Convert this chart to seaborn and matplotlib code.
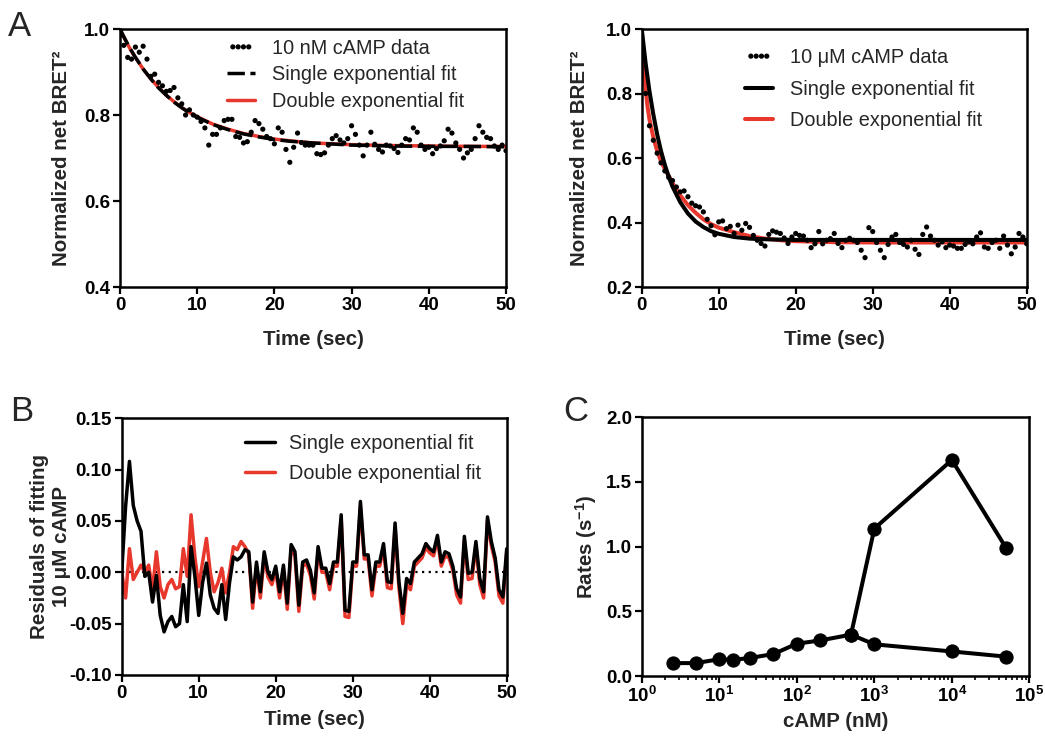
import numpy as np
import pandas as pd
import matplotlib
matplotlib.use("Agg")
import matplotlib.pyplot as plt
import seaborn as sns
from matplotlib.ticker import LogLocator, LogFormatterMathtext, NullFormatter, MultipleLocator, FormatStrFormatter

# ---------------- data ----------------
t_data = [i * 0.5 for i in range(101)]

nM10_data = [0.985, 0.962, 0.934, 0.930, 0.958, 0.946, 0.960, 0.930, 0.890, 0.895,
             0.876, 0.868, 0.855, 0.857, 0.864, 0.840, 0.826, 0.800, 0.812, 0.800,
             0.795, 0.785, 0.770, 0.730, 0.755, 0.755, 0.770, 0.787, 0.790, 0.790,
             0.750, 0.748, 0.735, 0.738, 0.760, 0.787, 0.780, 0.767, 0.750, 0.745,
             0.733, 0.770, 0.760, 0.720, 0.690, 0.725, 0.758, 0.736, 0.730, 0.730,
             0.730, 0.710, 0.708, 0.712, 0.730, 0.745, 0.752, 0.742, 0.735, 0.745,
             0.775, 0.755, 0.730, 0.705, 0.730, 0.760, 0.732, 0.720, 0.714, 0.730,
             0.728, 0.722, 0.713, 0.730, 0.745, 0.742, 0.770, 0.760, 0.730, 0.720,
             0.725, 0.710, 0.722, 0.728, 0.740, 0.767, 0.758, 0.735, 0.720, 0.700,
             0.712, 0.720, 0.745, 0.775, 0.760, 0.748, 0.745, 0.728, 0.720, 0.730,
             0.717]

uM10_data = [1.000, 0.800, 0.700, 0.655, 0.615, 0.585, 0.560, 0.540, 0.530, 0.510,
             0.495, 0.498, 0.480, 0.460, 0.452, 0.448, 0.433, 0.410, 0.390, 0.362,
             0.402, 0.405, 0.381, 0.388, 0.366, 0.392, 0.376, 0.397, 0.385, 0.360,
             0.345, 0.335, 0.327, 0.363, 0.374, 0.370, 0.366, 0.352, 0.335, 0.355,
             0.366, 0.360, 0.358, 0.345, 0.322, 0.334, 0.372, 0.334, 0.345, 0.350,
             0.366, 0.335, 0.322, 0.345, 0.351, 0.345, 0.338, 0.314, 0.291, 0.384,
             0.372, 0.338, 0.314, 0.291, 0.332, 0.355, 0.363, 0.338, 0.332, 0.324,
             0.345, 0.317, 0.301, 0.363, 0.386, 0.358, 0.345, 0.330, 0.340, 0.322,
             0.330, 0.327, 0.320, 0.320, 0.332, 0.340, 0.334, 0.355, 0.368, 0.324,
             0.320, 0.338, 0.345, 0.320, 0.358, 0.330, 0.303, 0.324, 0.366, 0.355,
             0.334]

# fit curves
t_fit_nM = [0, 0.5, 1, 1.5, 2, 3, 4, 5, 6, 7, 8, 9, 10, 12, 14, 16, 18, 20, 22, 25, 30, 35, 40, 45, 50]
nM10_single = [1.000, 0.982, 0.965, 0.949, 0.934, 0.907, 0.884, 0.863, 0.846, 0.830, 0.817, 0.805,
               0.795, 0.778, 0.766, 0.756, 0.749, 0.743, 0.739, 0.735, 0.730, 0.728, 0.727, 0.727, 0.726]
nM10_double = [1.000, 0.981, 0.964, 0.948, 0.934, 0.907, 0.884, 0.864, 0.846, 0.831, 0.817, 0.806,
               0.796, 0.779, 0.767, 0.757, 0.750, 0.744, 0.740, 0.735, 0.731, 0.729, 0.728, 0.727, 0.727]

t_fit_uM_single = [0, 0.5, 1, 1.5, 2, 2.5, 3, 3.5, 4, 5, 6, 7, 8, 9, 10, 12, 14, 16, 18, 20, 25, 30, 40, 50]
uM10_single = [1.000, 0.895, 0.808, 0.736, 0.674, 0.622, 0.579, 0.542, 0.511, 0.463, 0.428, 0.403,
               0.386, 0.373, 0.365, 0.355, 0.350, 0.348, 0.347, 0.346, 0.346, 0.346, 0.346, 0.346]
t_fit_uM_double = [0, 0.25, 0.5, 0.75, 1, 1.5, 2, 2.5, 3, 3.5, 4, 5, 6, 7, 8, 9, 10, 12, 14, 16, 18, 20, 25, 30, 40, 50]
uM10_double = [1.000, 0.900, 0.815, 0.760, 0.720, 0.665, 0.622, 0.590, 0.566, 0.545, 0.522, 0.484,
               0.454, 0.430, 0.410, 0.395, 0.384, 0.370, 0.358, 0.350, 0.345, 0.342, 0.339, 0.338,
               0.338, 0.338]

resid_single = [0.000, 0.064, 0.108, 0.065, 0.050, 0.040, -0.004, 0.000, -0.029, -0.003,
                -0.042, -0.058, -0.048, -0.043, -0.053, -0.050, -0.012, -0.048, 0.025, -0.004,
                -0.042, -0.010, 0.009, -0.022, -0.035, -0.040, -0.012, -0.046, -0.010, 0.015,
                0.012, 0.015, 0.022, 0.020, -0.029, 0.010, -0.019, 0.020, 0.000, -0.007,
                0.006, -0.019, 0.007, -0.030, 0.027, 0.020, -0.032, 0.010, 0.012, 0.002,
                -0.020, 0.025, 0.004, 0.004, -0.011, 0.010, 0.010, 0.056, -0.037, -0.038,
                0.010, 0.010, 0.069, 0.017, 0.017, -0.017, 0.010, 0.010, 0.028, -0.009,
                -0.010, 0.048, -0.009, -0.040, -0.006, -0.011, 0.010, 0.014, 0.018, 0.028,
                0.023, 0.020, 0.036, 0.010, 0.020, 0.018, 0.006, -0.016, -0.024, 0.035,
                -0.001, 0.000, 0.030, -0.006, -0.019, 0.054, 0.030, 0.014, -0.017, -0.024,
                0.023]
resid_double = [0.000, -0.025, 0.023, -0.007, 0.000, 0.007, 0.000, 0.007, -0.017, 0.020,
                -0.014, -0.025, -0.012, -0.007, -0.016, -0.014, 0.023, -0.004, 0.056, 0.015,
                -0.014, 0.010, 0.033, 0.000, -0.019, -0.010, 0.004, -0.020, 0.000, 0.025,
                0.022, 0.030, 0.025, 0.018, -0.035, 0.006, -0.025, 0.016, -0.005, -0.012,
                0.002, -0.025, 0.003, -0.036, 0.023, 0.016, -0.038, 0.006, 0.008, -0.003,
                -0.026, 0.021, 0.000, 0.000, -0.017, 0.006, 0.006, 0.052, -0.043, -0.044,
                0.006, 0.006, 0.064, 0.013, 0.013, -0.023, 0.006, 0.006, 0.024, -0.015,
                -0.016, 0.044, -0.015, -0.050, -0.012, -0.017, 0.006, 0.010, 0.014, 0.024,
                0.019, 0.016, 0.032, 0.006, 0.016, 0.014, 0.002, -0.022, -0.030, 0.031,
                -0.007, -0.006, 0.026, -0.012, -0.025, 0.050, 0.026, 0.010, -0.023, -0.030,
                0.019]

camp_slow = [2.5, 5, 10, 15, 25, 50, 100, 200, 500, 1000, 10000, 50000]
rate_slow = [0.10, 0.10, 0.13, 0.125, 0.14, 0.17, 0.25, 0.275, 0.32, 0.245, 0.19, 0.15]
camp_fast = [500, 1000, 10000, 50000]
rate_fast = [0.32, 1.14, 1.67, 0.99]

# ---------------- style ----------------
sns.set_style("ticks")
plt.rcParams.update({
    "font.family": ["Liberation Sans", "DejaVu Sans"],
    "axes.unicode_minus": False,
    "mathtext.fontset": "custom",
    "mathtext.rm": "Liberation Sans",
    "mathtext.bf": "Liberation Sans:bold",
    "mathtext.default": "bf",
    "axes.linewidth": 1.8,
    "axes.edgecolor": "black",
    "xtick.color": "black",
    "ytick.color": "black",
    "xtick.major.width": 1.6,
    "ytick.major.width": 1.6,
    "xtick.major.size": 5,
    "ytick.major.size": 5,
    "xtick.minor.width": 1.2,
    "xtick.minor.size": 3,
    "xtick.direction": "out",
    "ytick.direction": "out",
})

RED = "#e8372c"
LW = 2.5
TICK_FS = 13.5
LAB_FS = 14.8
LEG_FS = 14.3

fig = plt.figure(figsize=(10.45, 7.42), dpi=100)
axA1 = fig.add_axes([0.1148, 0.6132, 0.3694, 0.3477])
axA2 = fig.add_axes([0.6141, 0.6132, 0.3684, 0.3477])
axB = fig.add_axes([0.1165, 0.0903, 0.3684, 0.3460])
axC = fig.add_axes([0.6141, 0.0889, 0.3710, 0.3487])


def style_axis(ax, xl_y, yl_x):
    for s in ax.spines.values():
        s.set_visible(True)
        s.set_linewidth(1.8)
    ax.tick_params(labelsize=TICK_FS, pad=2)
    for lab in ax.get_xticklabels() + ax.get_yticklabels():
        lab.set_fontweight("bold")
    ax.xaxis.set_label_coords(0.5, xl_y)
    ax.yaxis.set_label_coords(yl_x, 0.5)


# ---------- A left ----------
df_nm = pd.DataFrame({"t": t_data, "v": nM10_data})
sns.lineplot(x=t_fit_nM, y=nM10_double, ax=axA1, color=RED, lw=LW, label="Double exponential fit", zorder=2)
sns.lineplot(x=t_fit_nM, y=nM10_single, ax=axA1, color="black", lw=LW, label="Single exponential fit",
             dashes=(5, 1.6), zorder=3)
sns.scatterplot(data=df_nm, x="t", y="v", ax=axA1, color="black", s=14, edgecolor="none",
                label="10 nM cAMP data", zorder=4)
axA1.set_xlim(0, 50)
axA1.set_ylim(0.4, 1.0)
axA1.xaxis.set_major_locator(MultipleLocator(10))
axA1.yaxis.set_major_locator(MultipleLocator(0.2))
axA1.yaxis.set_major_formatter(FormatStrFormatter("%.1f"))
axA1.set_xlabel("Time (sec)", fontsize=LAB_FS, fontweight="bold")
axA1.set_ylabel("Normalized net BRET²", fontsize=LAB_FS, fontweight="bold")
h, l = axA1.get_legend_handles_labels()
order = [l.index("10 nM cAMP data"), l.index("Single exponential fit"), l.index("Double exponential fit")]
axA1.legend([h[i] for i in order], [l[i] for i in order], loc="upper left",
            bbox_to_anchor=(0.277, 0.962), frameon=False, fontsize=LEG_FS, borderpad=0,
            borderaxespad=0, handlelength=1.4, handletextpad=0.85, labelspacing=0.38,
            scatterpoints=4, scatteryoffsets=[0.5])
style_axis(axA1, -0.168, -0.128)

# ---------- A right ----------
df_um = pd.DataFrame({"t": t_data, "v": uM10_data})
sns.lineplot(x=t_fit_uM_double, y=uM10_double, ax=axA2, color=RED, lw=LW + 0.4,
             label="Double exponential fit", zorder=2)
sns.lineplot(x=t_fit_uM_single, y=uM10_single, ax=axA2, color="black", lw=LW + 0.4,
             label="Single exponential fit", zorder=3)
sns.scatterplot(data=df_um, x="t", y="v", ax=axA2, color="black", s=14, edgecolor="none",
                label="10 μM cAMP data", zorder=4)
axA2.set_xlim(0, 50)
axA2.set_ylim(0.2, 1.0)
axA2.xaxis.set_major_locator(MultipleLocator(10))
axA2.yaxis.set_major_locator(MultipleLocator(0.2))
axA2.yaxis.set_major_formatter(FormatStrFormatter("%.1f"))
axA2.set_xlabel("Time (sec)", fontsize=LAB_FS, fontweight="bold")
axA2.set_ylabel("Normalized net BRET²", fontsize=LAB_FS, fontweight="bold")
h, l = axA2.get_legend_handles_labels()
order = [l.index("10 μM cAMP data"), l.index("Single exponential fit"), l.index("Double exponential fit")]
axA2.legend([h[i] for i in order], [l[i] for i in order], loc="upper left",
            bbox_to_anchor=(0.268, 0.926), frameon=False, fontsize=LEG_FS, borderpad=0,
            borderaxespad=0, handlelength=1.4, handletextpad=0.85, labelspacing=0.63,
            scatterpoints=4, scatteryoffsets=[0.5])
style_axis(axA2, -0.168, -0.137)

# ---------- B ----------
axB.axhline(0, color="black", ls=(0, (1, 2)), lw=1.6, zorder=1)
sns.lineplot(x=t_data, y=resid_double, ax=axB, color=RED, lw=LW, label="Double exponential fit", zorder=2)
sns.lineplot(x=t_data, y=resid_single, ax=axB, color="black", lw=LW, label="Single exponential fit", zorder=3)
axB.set_xlim(0, 50)
axB.set_ylim(-0.10, 0.15)
axB.xaxis.set_major_locator(MultipleLocator(10))
axB.yaxis.set_major_locator(MultipleLocator(0.05))
axB.yaxis.set_major_formatter(FormatStrFormatter("%.2f"))
axB.set_xlabel("Time (sec)", fontsize=LAB_FS, fontweight="bold")
axB.set_ylabel("Residuals of fitting\n10 μM cAMP", fontsize=LAB_FS, fontweight="bold")
h, l = axB.get_legend_handles_labels()
order = [l.index("Single exponential fit"), l.index("Double exponential fit")]
axB.legend([h[i] for i in order], [l[i] for i in order], loc="upper left",
           bbox_to_anchor=(0.32, 0.939), frameon=False, fontsize=LEG_FS, borderpad=0,
           borderaxespad=0, handlelength=1.5, handletextpad=0.7, labelspacing=0.56)
style_axis(axB, -0.138, -0.132)

# ---------- C ----------
sns.lineplot(x=camp_slow, y=rate_slow, ax=axC, color="black", lw=LW + 0.4, marker="o",
             markersize=9.5, markeredgecolor="black", errorbar=None)
sns.lineplot(x=camp_fast, y=rate_fast, ax=axC, color="black", lw=LW + 0.4, marker="o",
             markersize=9.5, markeredgecolor="black", errorbar=None)
axC.set_xscale("log")
axC.set_xlim(1, 1e5)
axC.set_ylim(0, 2.0)
axC.xaxis.set_major_locator(LogLocator(base=10, numticks=10))
axC.xaxis.set_major_formatter(LogFormatterMathtext())
axC.xaxis.set_minor_locator(LogLocator(base=10, subs=np.arange(2, 10), numticks=20))
axC.xaxis.set_minor_formatter(NullFormatter())
axC.yaxis.set_major_locator(MultipleLocator(0.5))
axC.yaxis.set_major_formatter(FormatStrFormatter("%.1f"))
axC.set_xlabel("cAMP (nM)", fontsize=LAB_FS, fontweight="bold")
axC.set_ylabel(r"Rates (s$^{-1}$)", fontsize=LAB_FS, fontweight="bold")
style_axis(axC, -0.14, -0.11)
if axC.get_legend():
    axC.get_legend().remove()

# panel letters
fig.text(0.008, 0.952, "A", fontsize=25)
fig.text(0.010, 0.432, "B", fontsize=25)
fig.text(0.539, 0.432, "C", fontsize=25)

fig.savefig("out.png", dpi=100)
